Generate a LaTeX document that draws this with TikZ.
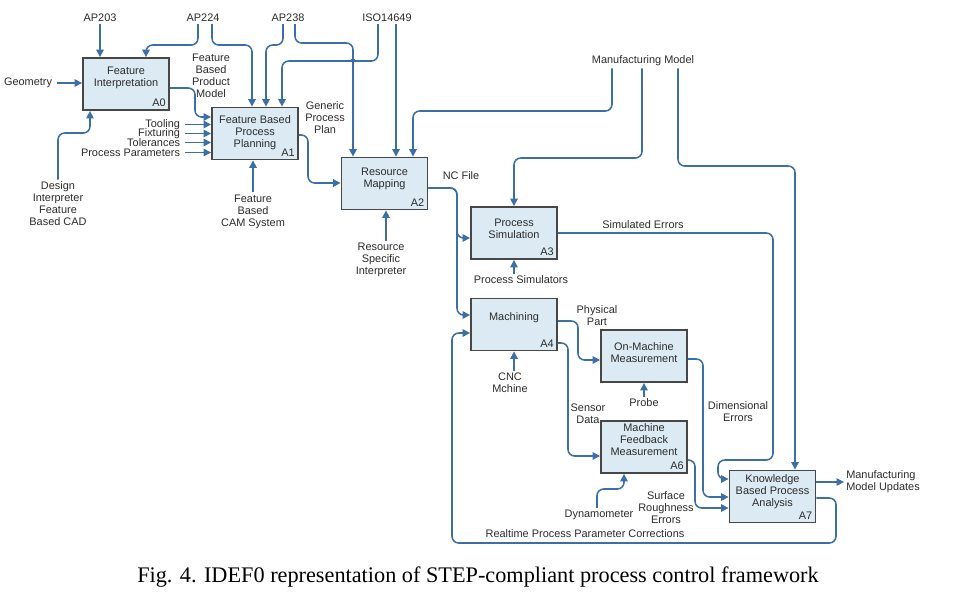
\documentclass[tikz,border=0pt]{standalone}
\usepackage{fontspec}
\setmainfont{Liberation Sans}
\newfontfamily\capfont{Liberation Serif}
\usepackage{tikz}
\usetikzlibrary{arrows.meta,positioning}
\definecolor{BoxFill}{HTML}{DCEAF4}
\definecolor{BoxEdge}{HTML}{474747}
\definecolor{FlowBlue}{HTML}{3B6FA6}
\definecolor{Ink}{HTML}{2B2B2B}

\begin{document}
\begin{tikzpicture}[x=0.75pt,y=-0.75pt,
  box/.style={draw=BoxEdge,line width=1.4pt,fill=BoxFill,minimum width=64.5pt,minimum height=39pt,inner sep=0pt},
  ttl/.style={align=center,font=\fontsize{8.2}{9}\selectfont,text=Ink,inner sep=0pt},
  code/.style={anchor=south east,font=\fontsize{8.2}{9}\selectfont,text=Ink,inner sep=3pt},
  lbl/.style={align=center,font=\fontsize{8.2}{9}\selectfont,text=Ink,inner sep=1.5pt},
  inlbl/.style={lbl,anchor=east,inner xsep=3.5pt},
  arr/.style={draw=FlowBlue,line width=1.15pt,rounded corners=5pt,-{Triangle[length=5.5pt,width=5.5pt]}}
]
\useasboundingbox (0,0) rectangle (956,597);
% activity boxes
\node[box] (a0) at (126,84) {};
\node[ttl] (a0t) at (126,78) {Feature\\Interpretation};
\node[code] (a0c) at (a0.south east) {A0};
\node[box] (a1) at (255,133.5) {};
\node[ttl] (a1t) at (255,133) {Feature Based\\Process\\Planning};
\node[code] (a1c) at (a1.south east) {A1};
\node[box] (a2) at (384.5,183.5) {};
\node[ttl] (a2t) at (384.5,179) {Resource\\Mapping};
\node[code] (a2c) at (a2.south east) {A2};
\node[box] (a3) at (514,233) {};
\node[ttl] (a3t) at (514,229) {Process\\Simulation};
\node[code] (a3c) at (a3.south east) {A3};
\node[box] (a4) at (514,324.5) {};
\node[ttl] (a4t) at (514,318) {Machining};
\node[code] (a4c) at (a4.south east) {A4};
\node[box] (a5) at (644,356) {};
\node[ttl] (a5t) at (644,353) {On-Machine\\Measurement};
\node[box] (a6) at (644,447) {};
\node[ttl] (a6t) at (644,440) {Machine\\Feedback\\Measurement};
\node[code] (a6c) at (a6.south east) {A6};
\node[box] (a7) at (772.5,496.5) {};
\node[ttl] (a7t) at (772.5,492) {Knowledge\\Based Process\\Analysis};
\node[code] (a7c) at (a7.south east) {A7};
% labels
\node[lbl] (ap203) at (100,18) {AP203};
\node[lbl] (ap224) at (203,18) {AP224};
\node[lbl] (ap238) at (288,18) {AP238};
\node[lbl] (iso) at (387,18) {ISO14649};
\node[lbl] (mfgmodel) at (643,61) {Manufacturing Model};
\node[inlbl] (geom) at (57,83) {Geometry};
\node[lbl] (dcad) at (58,204) {Design\\Interpreter\\Feature\\Based CAD};
\node[inlbl] (tooling) at (185,124.5) {Tooling};
\node[inlbl] (fixturing) at (185,133.5) {Fixturing};
\node[inlbl] (tolerances) at (185,142.5) {Tolerances};
\node[inlbl] (procparam) at (185,152.5) {Process Parameters};
\node[lbl] (fbpm) at (211,75.5) {Feature\\Based\\Product\\Model};
\node[lbl] (fcam) at (253,211.5) {Feature\\Based\\CAM System};
\node[lbl] (gpp) at (325,118) {Generic\\Process\\Plan};
\node[lbl] (rsi) at (381,260) {Resource\\Specific\\Interpreter};
\node[lbl] (ncfile) at (461,176) {NC File};
\node[lbl] (psim) at (521,280) {Process Simulators};
\node[lbl] (simerr) at (643,225) {Simulated Errors};
\node[lbl] (ppart) at (597,316) {Physical\\Part};
\node[lbl] (sdata) at (588,414) {Sensor\\Data};
\node[lbl] (cnc) at (510,383) {CNC\\Mchine};
\node[lbl] (probe) at (644,403) {Probe};
\node[lbl] (dyno) at (599,515) {Dynamometer};
\node[lbl] (surf) at (666,508) {Surface\\Roughness\\Errors};
\node[lbl] (dimerr) at (738,412) {Dimensional\\Errors};
\node[lbl,anchor=west,align=left] (mmupd) at (844,482) {Manufacturing\\Model Updates};
\node[lbl] (rtcorr) at (585,534) {Realtime Process Parameter Corrections};
\node[font=\capfont\fontsize{16.7}{18}\selectfont] (caption) at (478,577) {Fig. 4. IDEF0 representation of STEP-compliant process control framework};
% controls from above
\draw[arr] (ap203) -- (ap203 |- a0.north);
\draw[arr] (198,0 |- ap224.south) |- (146,45) -- (146,0 |- a0.north);
\draw[arr] (212,0 |- ap224.south) |- (252,45) -- (252,0 |- a1.north);
\draw[arr] (283,0 |- ap238.south) |- (266,45) -- (266,0 |- a1.north);
\draw[arr] (295,0 |- ap238.south) |- (353,43) -- (353,0 |- a2.north);
\draw[arr] (378,0 |- iso.south) |- (359,61) .. controls (355,61) and (353,59) .. (353,55) .. controls (353,59) and (351,61) .. (347,61) -| (282,0 |- a1.north);
\draw[arr] (396,0 |- iso.south) -- (396,0 |- a2.north);
\draw[arr] (612,0 |- mfgmodel.south) |- (413,111) -- (413,0 |- a2.north);
\draw[arr] (642,0 |- mfgmodel.south) |- (514,158) -- (514,0 |- a3.north);
\draw[arr] (678,0 |- mfgmodel.south) |- (795,166) -- (795,0 |- a7.north);
% inputs
\draw[arr] (geom) -- (geom -| a0.west);
\draw[arr] (tooling) -- (tooling -| a1.west);
\draw[arr] (fixturing) -- (fixturing -| a1.west);
\draw[arr] (tolerances) -- (tolerances -| a1.west);
\draw[arr] (procparam) -- (procparam -| a1.west);
% mechanisms from below
\draw[arr] (58,0 |- dcad.north) |- (90,133) -- (90,0 |- a0.south);
\draw[arr] (fcam) -- (fcam |- a1.south);
\draw[arr] (386,0 |- rsi.north) -- (386,0 |- a2.south);
\draw[arr] (514,0 |- psim.north) -- (514,0 |- a3.south);
\draw[arr] (514,0 |- cnc.north) -- (514,0 |- a4.south);
\draw[arr] (probe) -- (probe |- a5.south);
\draw[arr] (597,0 |- dyno.north) |- (624,489) -- (624,0 |- a6.south);
% outputs between activities
\draw[arr] (a0.east |- 0,88) -| (195,117) -- (a1.west |- 0,117);
\draw[arr] (a1.east |- 0,135) -| (308,183) -- (a2.west |- 0,183);
\draw[arr] (a2.east |- 0,188) -| (457,238) -- (a3.west |- 0,238);
\draw[arr] (a2.east |- 0,188) -| (457,315) -- (a4.west |- 0,315);
\draw[arr] (a3.east |- 0,233) -| (773,460) -| (718,479) -- (a7.west |- 0,479);
\draw[arr] (a4.east |- 0,321) -| (578,360) -- (a5.west |- 0,360);
\draw[arr] (a4.east |- 0,343) -| (568,456) -- (a6.west |- 0,456);
\draw[arr] (a5.east |- 0,359) -| (703,497) -- (a7.west |- 0,497);
\draw[arr] (a6.east |- 0,460) -| (695,508) -- (a7.west |- 0,508);
\draw[arr] (a7.east |- mmupd.west) -- (mmupd.west);
\draw[arr] (a7.east |- 0,498) -| (836,543) -| (452,333) -- (a4.west |- 0,333);
\end{tikzpicture}
\end{document}
